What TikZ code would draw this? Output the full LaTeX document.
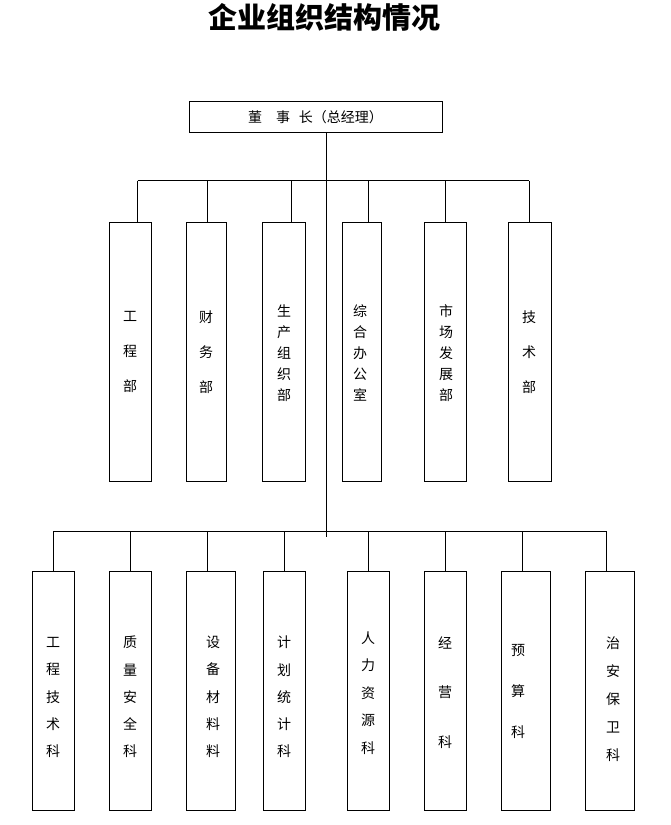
\documentclass[tikz,border=0pt]{standalone}
\usepackage{fontspec}
\newfontfamily\cjk{Noto Sans CJK SC}
\begin{document}
\begin{tikzpicture}[x=1pt,y=-1pt,line width=1pt,
  box/.style={draw,rectangle,inner sep=0pt,minimum width=#1},
  topbox/.style={box=#1,minimum height=259},
  botbox/.style={box=#1,minimum height=239},
  lbl/.style={font=\cjk\fontsize{14}{#1}\selectfont,align=center,inner sep=0pt},
  wire/.style={draw,line width=1pt}]
\useasboundingbox (0,0) rectangle (670,825);
% title
\node[font=\cjk\bfseries\fontsize{29}{29}\selectfont,inner sep=0pt] (title) at (324,17) {企业组织结构情况};
% chairman
\node[box=252.7,minimum height=31] (ceo) at (316.3,116.5) {};
\node[lbl=14] (ceotxt) at (315.5,117) {董\hspace{14pt}事\hspace{9pt}长（总经理）};
% top row boxes
\node[topbox=42]   (t1) at (130,351.5) {};
\node[topbox=40]   (t2) at (206.3,351.5) {};
\node[topbox=42.7] (t3) at (283.7,351.5) {};
\node[topbox=39]   (t4) at (361.5,351.5) {};
\node[topbox=41.7] (t5) at (445.2,351.5) {};
\node[topbox=43]   (t6) at (530.2,351.5) {};
\node[lbl=35] (tt1) at (130,352) {工\\程\\部};
\node[lbl=35] (tt2) at (206,352) {财\\务\\部};
\node[lbl=21] (tt3) at (284,353) {生\\产\\组\\织\\部};
\node[lbl=21] (tt4) at (360,353) {综\\合\\办\\公\\室};
\node[lbl=21] (tt5) at (446,353) {市\\场\\发\\展\\部};
\node[lbl=35] (tt6) at (529,352) {技\\术\\部};
% bottom row boxes
\node[botbox=42] (b1) at (53.3,690.5) {};
\node[botbox=42] (b2) at (130.3,690.5) {};
\node[botbox=49] (b3) at (210.8,690.5) {};
\node[botbox=42] (b4) at (284.3,690.5) {};
\node[botbox=42] (b5) at (368.3,690.5) {};
\node[botbox=42] (b6) at (445.3,690.5) {};
\node[botbox=49] (b7) at (525.8,690.5) {};
\node[botbox=49] (b8) at (609.8,690.5) {};
\node[lbl=27.3] (bt1) at (53,697.5) {工\\程\\技\\术\\科};
\node[lbl=27.3] (bt2) at (130,697) {质\\量\\安\\全\\科};
\node[lbl=27.3] (bt3) at (213,697) {设\\备\\材\\料\\料};
\node[lbl=27.3] (bt4) at (284,697) {计\\划\\统\\计\\科};
\node[lbl=27.5] (bt5) at (368,693) {人\\力\\资\\源\\科};
\node[lbl=49.5] (bt6) at (445,692.5) {经\\营\\科};
\node[lbl=41]   (bt7) at (518,691) {预\\算\\科};
\node[lbl=28]   (bt8) at (613,699) {治\\安\\保\\卫\\科};
% connectors
\coordinate (stemend) at (326.7,537);
\draw[wire] (ceo.south -| stemend) -- (stemend);
\coordinate (tl) at (137.7,180.7);
\coordinate (tr) at (529.3,180.7);
\draw[wire] (tl) -- (tr);
\foreach \n/\x in {1/137.7,2/207.3,3/291.7,4/368.3,5/445.3,6/529.3}{
  \coordinate (tj\n) at (\x,180.7);
  \draw[wire] (tj\n) -- (tj\n |- t\n.north);
}
\coordinate (bl) at (53.3,531);
\coordinate (br) at (606,531);
\draw[wire] (bl) -- (br);
\foreach \n/\x in {1/53.3,2/130.3,3/207.3,4/284.3,5/368.3,6/445.3,7/522.3,8/606}{
  \coordinate (bj\n) at (\x,531);
  \draw[wire] (bj\n) -- (bj\n |- b\n.north);
}
\end{tikzpicture}
\end{document}
